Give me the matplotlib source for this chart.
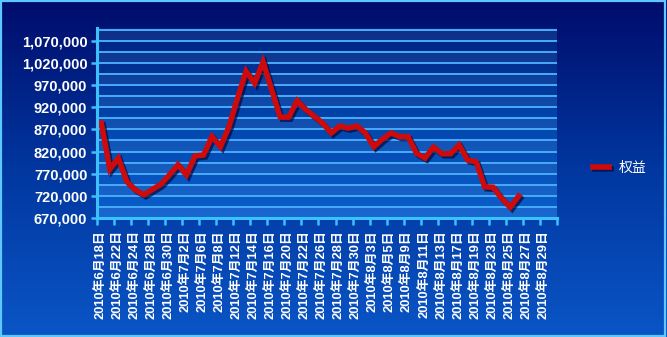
import matplotlib
matplotlib.use('Agg')
import matplotlib.pyplot as plt
import matplotlib.patheffects as pe
import numpy as np
from matplotlib.colors import LinearSegmentedColormap
from matplotlib.patches import Rectangle
from matplotlib.ticker import FuncFormatter

# every other trading day carries a label (category index = 2 * k)
date_labels = [
    '2010年6月18日', '2010年6月22日', '2010年6月24日', '2010年6月28日',
    '2010年6月30日', '2010年7月2日', '2010年7月6日', '2010年7月8日',
    '2010年7月12日', '2010年7月14日', '2010年7月16日', '2010年7月20日',
    '2010年7月22日', '2010年7月26日', '2010年7月28日', '2010年7月30日',
    '2010年8月3日', '2010年8月5日', '2010年8月9日', '2010年8月11日',
    '2010年8月13日', '2010年8月17日', '2010年8月19日', '2010年8月23日',
    '2010年8月25日', '2010年8月27日', '2010年8月29日',
]
n_categories = 54

# 权益 (equity), one value per trading day
equity = [
    885000, 780000, 805000, 752000, 733000, 722000, 734000, 746000,
    767000, 790000, 767000, 810000, 812000, 854000, 831000, 877000,
    941000, 1002000, 975000, 1023000, 960000, 898000, 898000, 935000,
    915000, 900000, 884000, 862000, 878000, 873000, 878000, 862000,
    831000, 848000, 862000, 854000, 854000, 816000, 805000, 830000,
    815000, 815000, 835000, 801000, 797000, 740000, 739000, 714000,
    694000, 719000,
]
series_name = '权益'

y_min, y_max = 670000, 1100000
y_ticks = list(range(670000, 1070001, 50000))

plt.rcParams['font.family'] = ['Liberation Sans', 'Noto Sans CJK SC', 'DejaVu Sans']

fig = plt.figure(figsize=(6.67, 3.37), dpi=100)

# figure background gradient
bg = fig.add_axes([0, 0, 1, 1], zorder=-10)
bg_cmap = LinearSegmentedColormap.from_list('bg', ['#0a55c6', '#01379f', '#000c6c'])
bg.imshow(np.linspace(0, 1, 256).reshape(-1, 1), cmap=bg_cmap, aspect='auto',
          extent=[0, 1, 0, 1], origin='lower')
bg.set_axis_off()
fig.patches.append(Rectangle((0.002, 0.003), 0.995, 0.993, transform=fig.transFigure,
                             fill=False, edgecolor='#5cc8ff', linewidth=1.6))

ax = fig.add_axes([97 / 667, 1 - 217.7 / 337, 460 / 667, 189.7 / 337])
ax.set_facecolor('none')

# plot area gradient and stripes
pa_cmap = LinearSegmentedColormap.from_list('pa', ['#0b5fcc', '#0346ad', '#00237f'])
ax.imshow(np.linspace(0, 1, 256).reshape(-1, 1), cmap=pa_cmap, aspect='auto',
          extent=[0, 1, 0, 1], origin='lower', transform=ax.transAxes, zorder=0)
for k, lo in enumerate(range(y_min, y_max, 25000)):
    if k % 2 == 0:
        ax.axhspan(lo, lo + 25000, color='white', alpha=0.06, lw=0, zorder=0.5)
for g in range(y_min + 25000, y_max, 25000):
    ax.axhline(g, color='#48acfa', lw=1.4, zorder=1)

x = np.arange(len(equity))
ax.plot(x, equity, color='#cf0a0a', lw=3.9, solid_joinstyle='miter', zorder=3,
        label=series_name,
        path_effects=[pe.SimpleLineShadow(offset=(1.5, -1.5), shadow_color='#000a40', alpha=0.7),
                      pe.Normal()])

ax.set_xlim(-0.5, n_categories - 0.5)
ax.set_ylim(y_min, y_max)

for side in ['top', 'right']:
    ax.spines[side].set_visible(False)
for side in ['left', 'bottom']:
    ax.spines[side].set_color('#3cc0ff')
    ax.spines[side].set_linewidth(2.2)
    ax.spines[side].set_zorder(4)

ax.set_yticks(y_ticks)
ax.yaxis.set_major_formatter(FuncFormatter(lambda v, p: f'{int(v):,}'))
ax.tick_params(axis='y', colors='#3cc0ff', length=4, width=1.8, pad=3,
               labelcolor='white', labelsize=10.5)
for t in ax.get_yticklabels():
    t.set_fontweight('bold')

ax.set_xticks(np.arange(0, n_categories, 2))
ax.set_xticklabels(date_labels, rotation=90, fontsize=9.3, fontweight='bold',
                   color='white', va='top', ha='center')
ax.set_xticks(np.arange(-0.5, n_categories, 2), minor=True)
ax.tick_params(axis='x', which='major', length=0, pad=9)
ax.tick_params(axis='x', which='minor', colors='#3cc0ff', length=5, width=1.8)

leg = ax.legend(loc='center left', bbox_to_anchor=(580 / 667, 1 - 168 / 337),
                bbox_transform=fig.transFigure, frameon=False, handlelength=1.2,
                handletextpad=0.7, prop={'size': 10})
for t in leg.get_texts():
    t.set_color('white')
for h in leg.get_lines():
    h.set_linewidth(4)

fig.savefig('out.png', dpi=100)
